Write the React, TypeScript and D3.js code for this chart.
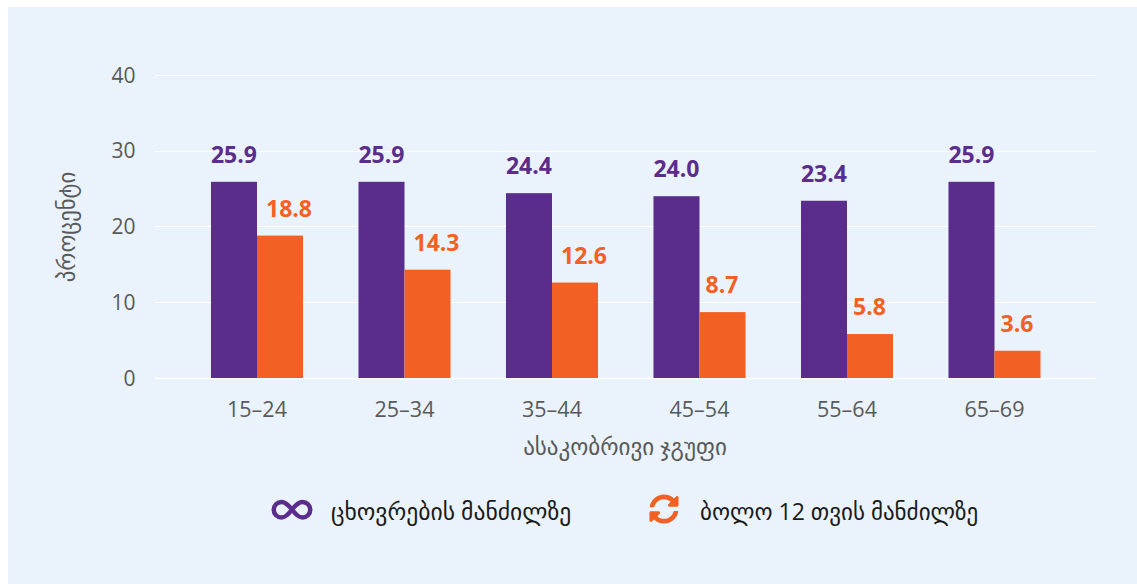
import React from "react";
import * as d3 from "d3";

const categories = ["15–24", "25–34", "35–44", "45–54", "55–64", "65–69"];
const lifetime = [25.9, 25.9, 24.4, 24.0, 23.4, 25.9];
const last12 = [18.8, 14.3, 12.6, 8.7, 5.8, 3.6];
const yTicks = [0, 10, 20, 30, 40];
const yTitle = "პროცენტი";
const xTitle = "ასაკობრივი ჯგუფი";
const legendA = "ცხოვრების მანძილზე";
const legendB = "ბოლო 12 თვის მანძილზე";
const PURPLE = "#5a2d8c";
const ORANGE = "#f36023";
const FONT = "'Open Sans', 'DejaVu Sans', sans-serif";
const SYNC = "M370.72 133.28C339.458 104.008 298.888 87.962 255.848 88c-77.458.068-144.328 53.178-162.791 126.85-1.344 5.363-6.122 9.15-11.651 9.15H24.103c-7.498 0-13.194-6.807-11.807-14.176C33.933 94.924 134.813 8 256 8c66.448 0 126.791 26.136 171.315 68.685L463.03 40.97C478.149 25.851 504 36.559 504 57.941V192c0 13.255-10.745 24-24 24H345.941c-21.382 0-32.09-25.851-16.971-40.971l41.75-41.749zM32 296h134.059c21.382 0 32.09 25.851 16.971 40.971l-41.75 41.75c31.262 29.273 71.835 45.319 114.876 45.28 77.418-.07 144.315-53.144 162.787-126.849 1.344-5.363 6.122-9.15 11.651-9.15h57.304c7.498 0 13.194 6.807 11.807 14.176C478.067 417.076 377.187 504 256 504c-66.448 0-126.791-26.136-171.315-68.685L48.97 471.03C33.851 486.149 8 475.441 8 454.059V320c0-13.255 10.745-24 24-24z";

export default function App() {
  const x = d3.scaleBand<string>().domain(categories).range([183.25, 1068.25]).paddingInner(0.376).paddingOuter(0.188);
  const y = d3.scaleLinear().domain([0, 40]).range([378, 75]);
  const bw = x.bandwidth() / 2;
  const row = (v: number) => Math.ceil(y(v) - 0.5) + 0.5;
  return (
    <svg width={1137} height={584} style={{ position: "absolute", left: 0, top: 0, display: "block" }} fontFamily={FONT}>
      <rect x={8} y={7} width={1129} height={577} fill="#eaf3fb" />
      {yTicks.map((t) => (
        <g key={t}>
          <line x1={155} x2={1096} y1={row(t)} y2={row(t)} stroke="#ffffff" strokeWidth={t === 0 ? 1.6 : 1.2} />
          <text x={135.5} y={y(t) + 7.5} textAnchor="end" fontSize={21} fill="#595959">{t}</text>
        </g>
      ))}
      {categories.map((c, i) => {
        const x0 = x(c)!;
        const shift = last12[i] >= 10 ? 9 : -0.5;
        return (
          <g key={c}>
            <rect x={x0} y={y(lifetime[i])} width={bw} height={y(0) - y(lifetime[i])} fill={PURPLE} />
            <rect x={x0 + bw} y={y(last12[i])} width={bw} height={y(0) - y(last12[i])} fill={ORANGE} />
            <text x={x0 + bw / 2} y={y(lifetime[i]) - 19} textAnchor="middle" fontSize={23} fontWeight={700} fill={PURPLE}>{lifetime[i].toFixed(1)}</text>
            <text x={x0 + bw * 1.5 + shift} y={y(last12[i]) - 19} textAnchor="middle" fontSize={23} fontWeight={700} fill={ORANGE}>{last12[i].toFixed(1)}</text>
            <text x={x0 + bw} y={416.5} textAnchor="middle" fontSize={21.5} fill="#595959">{c}</text>
          </g>
        );
      })}
      <text x={625} y={455} textAnchor="middle" fontSize={23} fill="#595959">{xTitle}</text>
      <text transform="translate(74.500,227) rotate(-90)" textAnchor="middle" fontSize={22.700} fill="#595959">{yTitle}</text>
      <path d="M292 509.5c-4-5-7.500-7.500-10.500-7.500a7.500 7.500 0 0 0 0 15.500c3 0 6.500-2.500 10.500-8c4 5.500 7.500 8 10.500 8a7.500 7.500 0 0 0 0-15.500c-3 0-6.500 2.500-10.500 7.500z" fill="none" stroke={PURPLE} strokeWidth={4.500} />
      <text x={331} y={520} fontSize={23.600} fill="#1a1a1a">{legendA}</text>
      <path d={SYNC} fill={ORANGE} transform="translate(649,494) scale(0.0586)" />
      <text x={700} y={520} fontSize={23} fill="#1a1a1a">{legendB}</text>
    </svg>
  );
}
